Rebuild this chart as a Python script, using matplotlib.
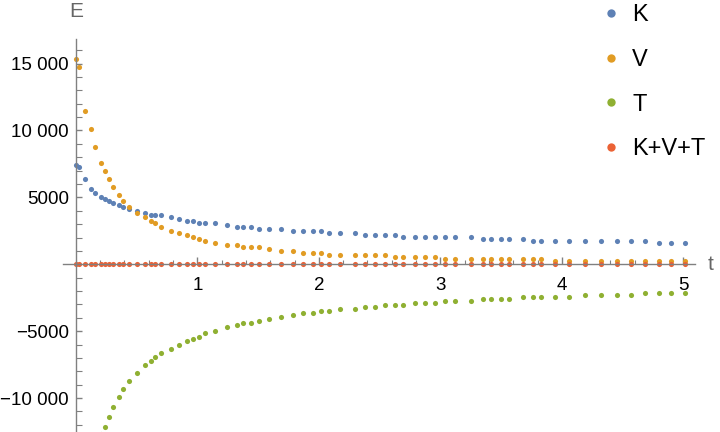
import matplotlib
matplotlib.use("Agg")
import matplotlib.pyplot as plt
from matplotlib.ticker import FixedLocator, MultipleLocator
from matplotlib.lines import Line2D

plt.rcParams['font.family'] = ['Liberation Sans', 'DejaVu Sans']

t = [0.004, 0.024, 0.073, 0.123, 0.156, 0.205, 0.238, 0.271, 0.304, 0.353,
     0.386, 0.435, 0.501, 0.567, 0.616, 0.649, 0.699, 0.781, 0.847, 0.913,
     0.962, 1.012, 1.061, 1.143, 1.242, 1.324, 1.374, 1.440, 1.506, 1.588,
     1.687, 1.785, 1.867, 1.950, 2.016, 2.081, 2.172, 2.295, 2.377, 2.460,
     2.542, 2.625, 2.690, 2.789, 2.872, 2.954, 3.036, 3.119, 3.250, 3.349,
     3.414, 3.497, 3.563, 3.678, 3.760, 3.826, 3.942, 4.057, 4.188, 4.320,
     4.452, 4.567, 4.682, 4.798, 4.897, 5.012]

K = [7445, 7296, 6399, 5652, 5354, 5055, 4905, 4756, 4607, 4457,
     4308, 4158, 4009, 3860, 3710, 3710, 3710, 3561, 3411, 3262,
     3262, 3113, 3113, 3113, 2963, 2814, 2814, 2814, 2664, 2664,
     2664, 2515, 2515, 2515, 2515, 2366, 2366, 2366, 2216, 2216,
     2216, 2216, 2067, 2067, 2067, 2067, 2067, 2067, 2067, 1917,
     1917, 1917, 1917, 1917, 1768, 1768, 1768, 1768, 1768, 1768,
     1768, 1768, 1768, 1619, 1619, 1619]

V = [15363, 14766, 11479, 10134, 8790, 7594, 6997, 6399, 5802, 5204,
     4756, 4308, 3860, 3561, 3262, 3113, 2814, 2515, 2366, 2216,
     2067, 1917, 1768, 1619, 1469, 1469, 1320, 1320, 1320, 1170,
     1021, 1021, 872, 872, 872, 722, 722, 722, 722, 722,
     722, 573, 573, 573, 573, 573, 423, 423, 423, 423,
     423, 423, 423, 423, 423, 423, 274, 274, 274, 274,
     274, 274, 274, 274, 274, 274]

T = [-22800, -22060, -17880, -15790, -14140, -12650, -12126, -11379, -10632, -9885,
     -9288, -8690, -8093, -7495, -7196, -6897, -6599, -6300, -6001, -5702,
     -5553, -5403, -5105, -4955, -4656, -4507, -4358, -4358, -4208, -4059,
     -3909, -3760, -3611, -3611, -3461, -3461, -3312, -3312, -3162, -3162,
     -3013, -3013, -3013, -2864, -2864, -2864, -2714, -2714, -2714, -2565,
     -2565, -2565, -2565, -2415, -2415, -2415, -2415, -2415, -2266, -2266,
     -2266, -2266, -2117, -2117, -2117, -2117]

total = [0] * 66

series_names = ["K", "V", "T", "K+V+T"]
colors = ["#5E81B5", "#E19C24", "#8FB032", "#EB6235"]

y_tick_vals = [-10000, -5000, 5000, 10000, 15000]
y_tick_labels = ["\u221210 000", "\u22125000", "5000", "10 000", "15 000"]
x_tick_vals = [1, 2, 3, 4, 5]
x_tick_labels = ["1", "2", "3", "4", "5"]

fig = plt.figure(figsize=(7.2, 4.32), dpi=100)
ax = fig.add_axes([62.7 / 720, 0.0, (695 - 62.7) / 720, (432 - 39.3) / 432])

for name, vals, c in zip(series_names, [K, V, T, total], colors):
    ax.plot(t, vals, linestyle='none', marker='o', markersize=3.7,
            markeredgewidth=0, color=c, label=name)

ax.set_xlim(-0.108, 5.096)
ax.set_ylim(-12534, 16816)

axis_color = "#808080"
for s in ['top', 'right']:
    ax.spines[s].set_visible(False)
ax.spines['left'].set_position(('data', 0))
ax.spines['bottom'].set_position(('data', 0))
for s in ['left', 'bottom']:
    ax.spines[s].set_color(axis_color)
    ax.spines[s].set_linewidth(1.0)

ax.xaxis.set_major_locator(FixedLocator(x_tick_vals))
ax.set_xticklabels(x_tick_labels)
ax.xaxis.set_minor_locator(MultipleLocator(0.2))
ax.yaxis.set_major_locator(FixedLocator(y_tick_vals))
ax.set_yticklabels(y_tick_labels)
ax.yaxis.set_minor_locator(MultipleLocator(1000))

ax.tick_params(axis='both', which='both', direction='in', color=axis_color,
               labelsize=13.5, labelcolor='black')
ax.tick_params(axis='x', which='major', length=5, width=1, pad=9)
ax.tick_params(axis='x', which='minor', length=3, width=0.8)
ax.tick_params(axis='y', which='major', length=4, width=1, pad=5)
ax.tick_params(axis='y', which='minor', length=4, width=0.8)

ax.set_facecolor('none')
fig.patch.set_facecolor('white')

ax.annotate("E", xy=(0, 1), xycoords=ax.get_xaxis_transform(),
            xytext=(0, 13), textcoords='offset points', ha='center', va='bottom',
            fontsize=15, color="#666666", annotation_clip=False)
ax.annotate("t", xy=(5.096, 0), xycoords='data', xytext=(9, 0),
            textcoords='offset points', ha='left', va='center',
            fontsize=15, color="#666666", annotation_clip=False)

handles = [Line2D([], [], linestyle='none', marker='o', markersize=6,
                  markeredgewidth=0, color=c) for c in colors]
fig.legend(handles, series_names, loc='upper left',
           bbox_to_anchor=(604 / 720, 0.99), frameon=False, fontsize=17,
           handlelength=0.6, handletextpad=0.6, labelspacing=0.96,
           borderaxespad=0, borderpad=0.0)

fig.savefig("out.png", dpi=100)
